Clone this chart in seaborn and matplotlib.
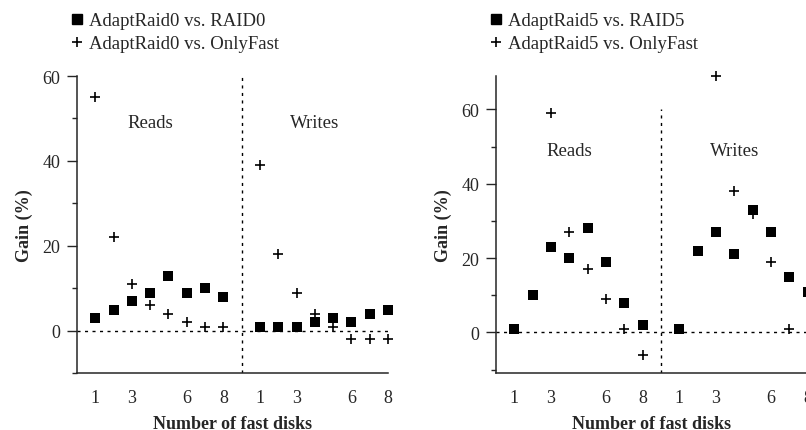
import numpy as np
import pandas as pd
import matplotlib
matplotlib.use("Agg")
import matplotlib.pyplot as plt
import seaborn as sns
from matplotlib.lines import Line2D

# ---- data ----
disks = [1, 2, 3, 4, 5, 6, 7, 8]
tick_disks = [1, 3, 6, 8]

# Left panel: AdaptRaid0
r0_vs_raid0_reads = [3, 5, 7, 9, 13, 9, 10, 8]
r0_vs_raid0_writes = [1, 1, 1, 2, 3, 2, 4, 5]
r0_vs_fast_reads = [55, 22, 11, 6, 4, 2, 1, 1]
r0_vs_fast_writes = [39, 18, 9, 4, 1, -2, -2, -2]

# Right panel: AdaptRaid5 (values off the plotted range are missing)
r5_vs_raid5_reads = [1, 10, 23, 20, 28, 19, 8, 2]
r5_vs_raid5_writes = [1, 22, 27, 21, 33, 27, 15, 11]
r5_vs_fast_reads = [np.nan, np.nan, 59, 27, 17, 9, 1, -6]
r5_vs_fast_writes = [np.nan, np.nan, 69, 38, 32, 19, 1, np.nan]

labels_left = ["AdaptRaid0 vs. RAID0", "AdaptRaid0 vs. OnlyFast"]
labels_right = ["AdaptRaid5 vs. RAID5", "AdaptRaid5 vs. OnlyFast"]
phases = ["Reads", "Writes"]

# ---- style ----
sns.set_theme(style="ticks")
plt.rcParams["font.family"] = ["Liberation Serif", "DejaVu Serif"]
plt.rcParams["font.size"] = 13
plt.rcParams["axes.linewidth"] = 1.1

GAP = len(disks) + 1  # writes group offset on the x axis


def make_df(reads, writes):
    pos = list(disks) + [d + GAP for d in disks]
    return pd.DataFrame({"pos": pos, "gain": list(reads) + list(writes)})


fig = plt.figure(figsize=(8.06, 4.31), dpi=100)
W, H = 806, 431


def add_axes_px(x0, x1, ytop, ybot):
    return fig.add_axes([x0 / W, (H - ybot) / H, (x1 - x0) / W, (ybot - ytop) / H])


ax1 = add_axes_px(77, 388, 77, 374.3)
ax2 = add_axes_px(496, 807.5, 77, 374.3)


def draw_panel(ax, sq_reads, sq_writes, pl_reads, pl_writes, labels, ylim):
    df_sq = make_df(sq_reads, sq_writes)
    df_pl = make_df(pl_reads, pl_writes)
    ax.set_xlim(0, 2 * len(disks) + 1)
    ax.set_ylim(*ylim)
    # reference lines
    ax.axhline(0, color="black", lw=1.0, ls=(0, (2.2, 3.2)), zorder=1)
    ax.vlines(GAP, ylim[0], 60, color="black", lw=1.0, ls=(0, (2.2, 3.2)), zorder=1)
    sns.scatterplot(data=df_sq, x="pos", y="gain", marker="s", s=58,
                    color="black", edgecolor="black", linewidth=0, ax=ax,
                    zorder=3, clip_on=False, legend=False)
    sns.scatterplot(data=df_pl, x="pos", y="gain", marker="+", s=60,
                    color="black", linewidth=1.2, ax=ax, zorder=3,
                    clip_on=False, legend=False)
    # phase labels
    ax.text(4, 49, phases[0], ha="center", va="center", fontsize=13.5)
    ax.text(4 + GAP, 49, phases[1], ha="center", va="center", fontsize=13.5)
    # axes styling
    sns.despine(ax=ax)
    ticks = list(tick_disks) + [d + GAP for d in tick_disks]
    ax.set_xticks(ticks)
    ax.set_xticklabels([str(d) for d in tick_disks] * 2)
    ax.tick_params(axis="x", length=0, pad=11, labelsize=13)
    ax.set_yticks([0, 20, 40, 60])
    ax.set_yticks([-10, 10, 30, 50], minor=True)
    ax.tick_params(axis="y", which="major", length=7.5, width=1.0, pad=4.5, labelsize=13)
    ax.tick_params(axis="y", which="minor", length=3.8, width=1.0)
    ax.set_xlabel("Number of fast disks", fontweight="bold", fontsize=13, labelpad=6.5)
    ax.set_ylabel("Gain (%)", fontweight="bold", fontsize=13, labelpad=7)
    # legend above the axes
    handles = [
        Line2D([], [], marker="s", color="black", ls="none", markersize=6.5),
        Line2D([], [], marker="+", color="black", ls="none", markersize=7.5, markeredgewidth=1.2),
    ]
    ax.legend(handles, labels, loc="lower left", bbox_to_anchor=(-0.018, 1.08),
              frameon=False, fontsize=13.5, handlelength=0.6, handletextpad=0.35,
              labelspacing=0.32, borderaxespad=0, borderpad=0)


draw_panel(ax1, r0_vs_raid0_reads, r0_vs_raid0_writes,
           r0_vs_fast_reads, r0_vs_fast_writes, labels_left, (-10, 60))
draw_panel(ax2, r5_vs_raid5_reads, r5_vs_raid5_writes,
           r5_vs_fast_reads, r5_vs_fast_writes, labels_right, (-11, 69))

fig.savefig("out.png", dpi=100, facecolor="white")
